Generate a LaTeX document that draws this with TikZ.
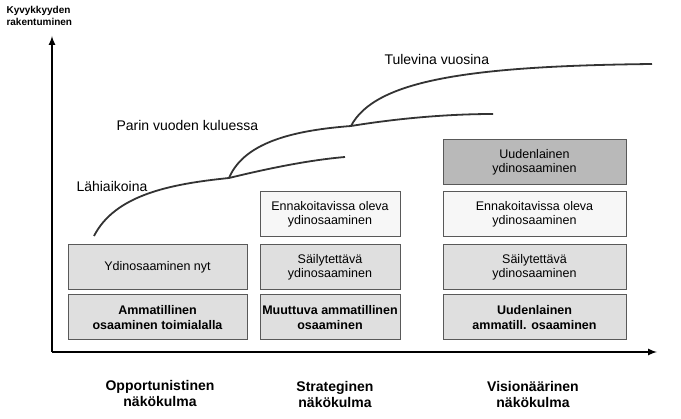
\documentclass[tikz,border=0pt]{standalone}
\usepackage{fontspec}
\setmainfont{Liberation Sans}
\begin{document}
\begin{tikzpicture}[x=1pt,y=-1pt,
  bx/.style={draw=gray!70!black,line width=1pt,fill=gray!25,minimum height=45pt,align=center,font=\fontsize{12.5}{14.5}\selectfont,inner sep=2pt},
  wb/.style={bx,fill=gray!6},
  db/.style={bx,fill=gray!55},
  lab/.style={font=\fontsize{14}{16}\selectfont\bfseries,align=center},
  cv/.style={line width=1.8pt,draw=gray!40!black}]
\useasboundingbox (0,0) rectangle (681,419);
\coordinate (o) at (52,352);
\coordinate (yt) at (52,36);
\coordinate (xr) at (657,352);
\draw[line width=2pt,-latex] (o) -- (yt);
\draw[line width=2pt,-latex] (o) -- (xr);
\node[anchor=north west,align=left,font=\fontsize{10}{12}\selectfont\bfseries] (yl) at (3,3) {Kyvykkyyden\\rakentuminen};
% column 1
\node[bx,minimum width=179pt] (a1) at (157.5,267.5) {Ydinosaaminen nyt};
\node[bx,minimum width=179pt,font=\fontsize{12.5}{14.5}\selectfont\bfseries] (a2) at (157.5,317.5) {Ammatillinen\\osaaminen toimialalla};
% column 2
\node[wb,minimum width=140pt] (b0) at (330,214.5) {Ennakoitavissa oleva\\ydinosaaminen};
\node[bx,minimum width=140pt] (b1) at (330,267.5) {Säilytettävä\\ydinosaaminen};
\node[bx,minimum width=140pt,font=\fontsize{12.5}{14.5}\selectfont\bfseries] (b2) at (330,317.5) {Muuttuva ammatillinen\\osaaminen};
% column 3
\node[db,minimum width=183pt] (c0) at (534.5,162.5) {Uudenlainen\\ydinosaaminen};
\node[wb,minimum width=183pt] (c1) at (534.5,214.5) {Ennakoitavissa oleva\\ydinosaaminen};
\node[bx,minimum width=183pt] (c2) at (534.5,267.5) {Säilytettävä\\ydinosaaminen};
\node[bx,minimum width=183pt,font=\fontsize{12.5}{14.5}\selectfont\bfseries] (c3) at (534.5,317.5) {Uudenlainen\\ammatill. osaaminen};
% curves
\coordinate (p1) at (94,236);
\coordinate (p2) at (229,178);
\coordinate (p3) at (351,126);
\draw[cv] (p1) .. controls (115,195) and (170,184) .. (p2) .. controls (270,168) and (310,160) .. (345,157);
\draw[cv] (p2) .. controls (245,140) and (300,130) .. (p3) .. controls (400,118) and (450,114) .. (493,114);
\draw[cv] (p3) .. controls (375,80) and (470,66) .. (652,64);
\node[font=\fontsize{14}{16}\selectfont,anchor=west] (l1) at (73,186) {Lähiaikoina};
\node[font=\fontsize{14}{16}\selectfont,anchor=west] (l2) at (113,126) {Parin vuoden kuluessa};
\node[font=\fontsize{14}{16}\selectfont,anchor=west] (l3) at (381,60) {Tulevina vuosina};
% bottom labels
\node[lab] (t1) at (160,393) {Opportunistinen\\näkökulma};
\node[lab] (t2) at (335,394) {Strateginen\\näkökulma};
\node[lab] (t3) at (533,394) {Visionäärinen\\näkökulma};
\end{tikzpicture}
\end{document}
